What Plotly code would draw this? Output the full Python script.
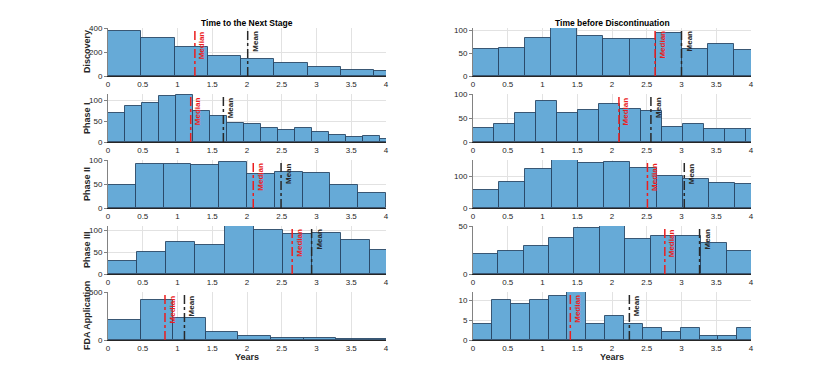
import plotly.graph_objects as go
from plotly.subplots import make_subplots

phases = ['Discovery', 'Phase I', 'Phase II', 'Phase III', 'FDA Application']
col_titles = ['Time to the Next Stage', 'Time before Discontinuation']
x_ticks = [0, 0.5, 1, 1.5, 2, 2.5, 3, 3.5, 4]

# time to the next stage (left column)
disc_next = [374, 318, 241, 165, 139, 108, 79, 51, 40]
p1_next = [70, 88, 94, 112, 114, 74, 62, 46, 44, 33, 30, 33, 23, 18, 11, 14, 7]
p2_next = [48, 91, 91, 89, 95, 70, 74, 72, 48, 32]
p3_next = [29, 50, 73, 66, 110, 100, 92, 95, 77, 56]
fda_next = [207, 418, 229, 82, 39, 21, 18, 11, 7]
next_bin_w = [0.479, 0.2446, 0.4, 0.4193, 0.469]
next_median = [1.25, 1.19, 2.09, 2.65, 0.82]
next_mean = [2.01, 1.66, 2.49, 2.93, 1.10]
next_ymax = [400, 116, 100, 110, 500]
next_yticks = [[0, 200, 400], [0, 50, 100], [0, 50, 100], [0, 50, 100], [0, 500]]

# time before discontinuation (right column)
disc_stop = [58, 61, 84, 104, 87, 80, 81, 94, 59, 70, 57]
p1_stop = [29, 38, 61, 86, 61, 67, 80, 69, 64, 31, 38, 27, 27, 27]
p2_stop = [56, 81, 123, 150, 142, 144, 126, 100, 91, 78, 76]
p3_stop = [21, 24, 29, 38, 48, 50, 36, 40, 40, 32, 24]
fda_stop = [4, 10, 9, 10, 11, 12, 4, 6, 4, 3, 2, 3, 1, 1, 3]
stop_bin_w = [0.3755, 0.3025, 0.3774, 0.365, 0.2716]
stop_median = [2.62, 2.10, 2.51, 2.76, 1.40]
stop_mean = [3.0, 2.56, 3.04, 3.26, 2.25]
stop_ymax = [105, 100, 150, 50, 12]
stop_yticks = [[0, 50, 100], [0, 50, 100], [0, 100], [0, 50], [0, 5, 10]]

W, H = 830, 382
FONT = 'Liberation Sans, Arial, sans-serif'
TXT = 'rgb(38,38,38)'

columns = [
    dict(counts=[disc_next, p1_next, p2_next, p3_next, fda_next], w=next_bin_w,
         med=next_median, mean=next_mean, ymax=next_ymax, yt=next_yticks),
    dict(counts=[disc_stop, p1_stop, p2_stop, p3_stop, fda_stop], w=stop_bin_w,
         med=stop_median, mean=stop_mean, ymax=stop_ymax, yt=stop_yticks),
]

x_px = [(108, 386), (473, 751)]
row_top = [28, 94, 160, 226, 292]
row_h = 48

fig = make_subplots(rows=5, cols=2)

for c, col in enumerate(columns):
    for r in range(5):
        idx = r * 2 + c + 1
        sfx = '' if idx == 1 else str(idx)
        counts = col['counts'][r]
        w = col['w'][r]
        starts = [i * w for i in range(len(counts))]
        fig.add_trace(go.Bar(
            x=[s + w / 2 for s in starts], y=counts, width=[w] * len(counts),
            marker=dict(color='rgb(102,170,215)',
                        line=dict(color='rgba(35,65,95,0.85)', width=1)),
            showlegend=False, hoverinfo='skip',
        ), row=r + 1, col=c + 1)

        x0, x1 = x_px[c]
        fig.update_xaxes(
            domain=[x0 / W, x1 / W], range=[0, 4], tickvals=x_ticks,
            showgrid=True, gridcolor='rgb(226,226,226)', gridwidth=1,
            showline=True, linecolor=TXT, linewidth=1,
            ticks='', tickfont=dict(family=FONT, size=8, color=TXT),
            zeroline=False, row=r + 1, col=c + 1,
        )
        top = row_top[r]
        fig.update_yaxes(
            domain=[1 - (top + row_h) / H, 1 - top / H], range=[0, col['ymax'][r]],
            tickvals=col['yt'][r],
            showgrid=True, gridcolor='rgb(226,226,226)', gridwidth=1,
            showline=True, linecolor='rgb(130,130,130)', linewidth=1,
            ticks='outside', ticklen=3, tickcolor='rgb(130,130,130)',
            tickfont=dict(family=FONT, size=8, color=TXT),
            zeroline=False, row=r + 1, col=c + 1,
        )

        # median and mean markers
        for val, color, label in [(col['med'][r], 'rgb(235,30,30)', 'Median'),
                                  (col['mean'][r], 'rgb(40,40,40)', 'Mean')]:
            fig.add_shape(type='line', xref='x' + sfx, yref='y' + sfx + ' domain',
                          x0=val, x1=val, y0=0, y1=1,
                          line=dict(color=color, width=1.5, dash='dashdot'))
            fig.add_annotation(xref='x' + sfx, yref='y' + sfx + ' domain',
                               x=val, y=0.98, xanchor='left', yanchor='top',
                               xshift=1, textangle=-90, showarrow=False,
                               text='<b>' + label + '</b>',
                               font=dict(family=FONT, size=8, color=color))

# row labels
for r, name in enumerate(phases):
    fig.add_annotation(xref='paper', yref='paper', x=87 / W,
                       y=1 - (row_top[r] + row_h / 2) / H,
                       text='<b>' + name + '</b>', textangle=-90, showarrow=False,
                       xanchor='center', yanchor='middle',
                       font=dict(family=FONT, size=9, color=TXT))

# column titles and x label
for c, t in enumerate(col_titles):
    xc = (x_px[c][0] + x_px[c][1]) / 2 / W
    fig.add_annotation(xref='paper', yref='paper', x=xc, y=1 - 23 / H,
                       text='<b>' + t + '</b>', showarrow=False,
                       xanchor='center', yanchor='middle',
                       font=dict(family=FONT, size=8.5, color='black'))
    fig.add_annotation(xref='paper', yref='paper', x=xc, y=1 - 357 / H,
                       text='<b>Years</b>', showarrow=False,
                       xanchor='center', yanchor='middle',
                       font=dict(family=FONT, size=9, color=TXT))

fig.update_layout(
    width=W, height=H, autosize=False,
    margin=dict(l=0, r=0, t=0, b=0, autoexpand=False),
    plot_bgcolor='white', paper_bgcolor='white',
    bargap=0, showlegend=False,
)

fig.write_html('out.html', config={'displayModeBar': False},
               post_script="document.body.style.margin='0';")
